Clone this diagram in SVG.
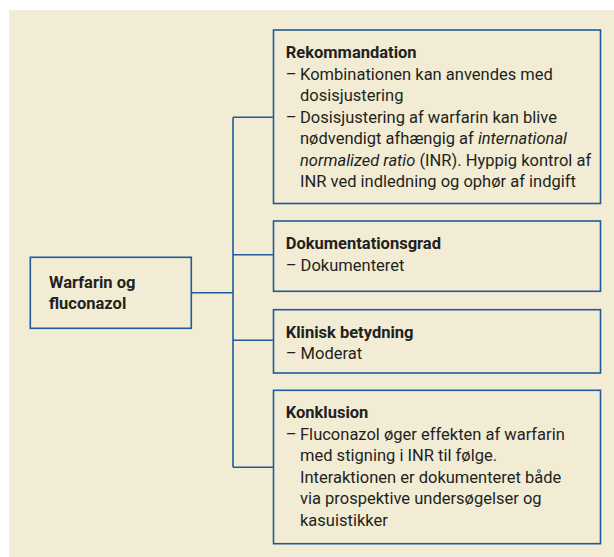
<svg xmlns="http://www.w3.org/2000/svg" width="614" height="557" viewBox="0 0 614 557">
<style>
.box{fill:#f2ecd5;stroke:#1e5b9b;stroke-width:1.6}
.ln{fill:none;stroke:#1e5b9b;stroke-width:1.6}
text{font-family:Roboto,"Liberation Sans",sans-serif;font-size:16.5px;fill:#231f20}
.h{font-weight:bold}
.i{font-style:italic}
</style>
<rect x="9" y="10" width="605" height="547" fill="#f2ecd5"/>
<g id="connectors">
<path class="ln" d="M233 117.3V467.3M233 117.3H273.5M233 254.7H273.5M233 340.3H273.5M233 467.3H273.5M191.3 292.8H233"/>
</g>
<g id="center">
<rect class="box" x="30.3" y="257.3" width="161" height="71"/>
<text class="h" x="49" y="288">Warfarin og</text>
<text class="h" x="49" y="309">fluconazol</text>
</g>
<g id="rekommandation">
<rect class="box" x="273.5" y="30" width="327" height="173.5"/>
<text class="h" x="285.7" y="58">Rekommandation</text>
<text x="285.7" y="79.5">–</text>
<text x="300" y="79.5">Kombinationen kan anvendes med</text>
<text x="300" y="101">dosisjustering</text>
<text x="285.7" y="122.5">–</text>
<text x="300" y="122.5">Dosisjustering af warfarin kan blive</text>
<text x="300" y="144">nødvendigt afhængig af <tspan class="i">international</tspan></text>
<text x="300" y="165.5"><tspan class="i">normalized ratio</tspan> (INR). Hyppig kontrol af</text>
<text x="300" y="187">INR ved indledning og ophør af indgift</text>
</g>
<g id="dokumentationsgrad">
<rect class="box" x="273.5" y="221" width="327" height="70.3"/>
<text class="h" x="285.7" y="249">Dokumentationsgrad</text>
<text x="285.7" y="270.5">– Dokumenteret</text>
</g>
<g id="klinisk">
<rect class="box" x="273.5" y="309.7" width="327" height="63.3"/>
<text class="h" x="285.7" y="337.5">Klinisk betydning</text>
<text x="285.7" y="359">– Moderat</text>
</g>
<g id="konklusion">
<rect class="box" x="273.5" y="390.3" width="327" height="153.4"/>
<text class="h" x="285.7" y="418">Konklusion</text>
<text x="285.7" y="439.5">–</text>
<text x="300" y="439.5">Fluconazol øger effekten af warfarin</text>
<text x="300" y="461">med stigning i INR til følge.</text>
<text x="300" y="482.5">Interaktionen er dokumenteret både</text>
<text x="300" y="504">via prospektive undersøgelser og</text>
<text x="300" y="525.5">kasuistikker</text>
</g>
</svg>
